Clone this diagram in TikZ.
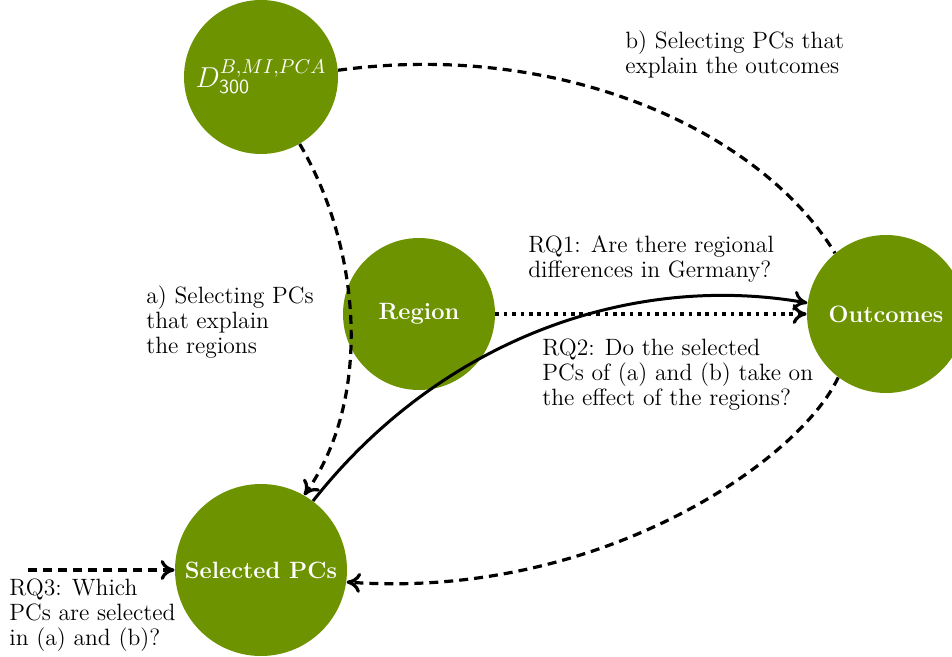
\documentclass[tikz,border=0pt]{standalone}
\usetikzlibrary{arrows.meta}
\definecolor{nodegreen}{RGB}{110,147,0}
\begin{document}
\begin{tikzpicture}[x=0.5pt,y=-0.5pt,
  every node/.style={font=\fontsize{11.8}{12.5}\selectfont},
  circ/.style={circle,fill=nodegreen,draw=none,text=white,font=\fontsize{11.8}{12.5}\selectfont\bfseries,inner sep=0pt},
  lbl/.style={anchor=north west,align=left,inner sep=0pt},
  tip/.style={-{Computer Modern Rightarrow[length=7pt,width=10pt]}},
  dashline/.style={line width=1.6pt,dash pattern=on 4.5pt off 3pt},
  dotline/.style={line width=1.6pt,dash pattern=on 1.8pt off 2.4pt},
  solidline/.style={line width=1.5pt}]
\useasboundingbox (0,0) rectangle (952,657);
\node[circ,minimum size=77pt,font=\fontsize{14}{15}\selectfont] (D) at (261,77) {$D_{\mathsf{300}}^{B,MI,PCA}$};
\node[circ,minimum size=76pt] (R) at (419,314) {Region};
\node[circ,minimum size=79pt] (O) at (886,314) {Outcomes};
\node[circ,minimum size=86pt] (S) at (261,570) {Selected PCs};
\coordinate (in) at (28,570);
% connectors
\draw[dashline] (D.5) .. controls (560,40) and (760,130) .. (O.130);
\draw[dashline,tip] (D.-60) .. controls (362,250) and (372,400) .. (S.60);
\draw[dotline,tip] (R) -- (O);
\draw[solidline,tip] (S.53) .. controls (440,340) and (630,272) .. (O.172);
\draw[dashline,tip] (O.-127) .. controls (800,460) and (600,600) .. (S.-8);
\draw[dashline,tip] (in) -- (S);
% labels
\node[lbl] (lb) at (625,30) {b) Selecting PCs that\\explain the outcomes};
\node[lbl] (la) at (146,285) {a) Selecting PCs\\that explain\\the regions};
\node[lbl] (l1) at (528,235) {RQ1: Are there regional\\differences in Germany?};
\node[lbl] (l2) at (542,338) {RQ2: Do the selected\\PCs of (a) and (b) take on\\the effect of the regions?};
\node[lbl] (l3) at (9,578) {RQ3: Which\\PCs are selected\\in (a) and (b)?};
\end{tikzpicture}
\end{document}
